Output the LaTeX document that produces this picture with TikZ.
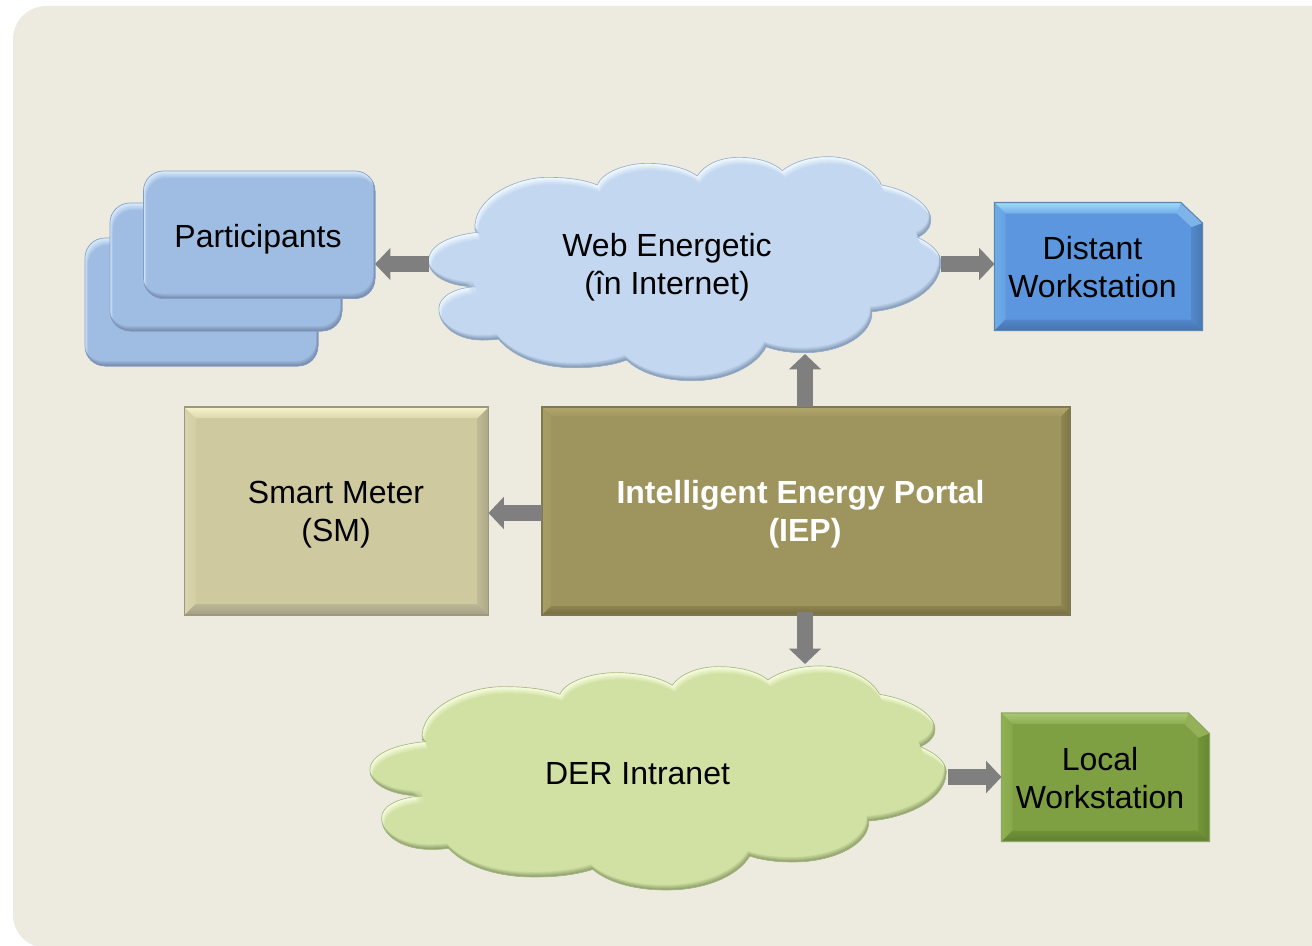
\documentclass[tikz,border=0pt]{standalone}
\usepackage{fontspec}
\setmainfont{Liberation Sans}
\usetikzlibrary{arrows.meta}
\definecolor{paper}{HTML}{EDEADF}
\definecolor{arrowgray}{HTML}{7F7F7F}
\definecolor{partBase}{HTML}{9FBDE3}\definecolor{partHi}{HTML}{DCEEFC}\definecolor{partLo}{HTML}{7488A8}
\definecolor{webBase}{HTML}{C3D8F0}\definecolor{webHi}{HTML}{F2FAFE}\definecolor{webLo}{HTML}{7F94B0}
\definecolor{derBase}{HTML}{D0E1A3}\definecolor{derHi}{HTML}{F9FDE2}\definecolor{derLo}{HTML}{8C9C6A}
\definecolor{smBase}{HTML}{CFC9A0}\definecolor{smTopA}{HTML}{F8F4CC}\definecolor{smTopB}{HTML}{DDD7AC}
\definecolor{smLeft}{HTML}{DAD4AE}\definecolor{smRight}{HTML}{ACA788}\definecolor{smBot}{HTML}{A4A086}\definecolor{smEdge}{HTML}{9C9880}
\definecolor{iepBase}{HTML}{9E945D}\definecolor{iepTopA}{HTML}{B0A76E}\definecolor{iepTopB}{HTML}{A29860}
\definecolor{iepLeft}{HTML}{A79D65}\definecolor{iepRight}{HTML}{7E7545}\definecolor{iepBot}{HTML}{776E42}\definecolor{iepEdge}{HTML}{7F7850}
\definecolor{distBase}{HTML}{5B96DE}\definecolor{distTopA}{HTML}{A0DAFB}\definecolor{distTopB}{HTML}{6FADE9}
\definecolor{distLeft}{HTML}{70ABE8}\definecolor{distRight}{HTML}{4878B2}\definecolor{distBot}{HTML}{4574B0}\definecolor{distDiag}{HTML}{7EB4E8}\definecolor{distEdge}{HTML}{5C85B0}
\definecolor{locBase}{HTML}{7E9F42}\definecolor{locTopA}{HTML}{ABC873}\definecolor{locTopB}{HTML}{8BAC50}
\definecolor{locLeft}{HTML}{90B054}\definecolor{locRight}{HTML}{668633}\definecolor{locBot}{HTML}{608032}\definecolor{locDiag}{HTML}{93B258}\definecolor{locEdge}{HTML}{8DA665}
\newcommand{\cloudoutline}{(160,440) .. controls (90,440) and (25,410) .. (25,362) .. controls (25,315) and (90,285) .. (168,277)
 -- (160,272) .. controls (150,180) and (270,112) .. (370,112) .. controls (430,112) and (480,120) .. (515,135)
 .. controls (530,95) and (600,70) .. (660,70) .. controls (720,70) and (775,85) .. (805,108)
 .. controls (825,75) and (870,52) .. (925,52) .. controls (985,52) and (1030,70) .. (1052,92)
 .. controls (1080,68) and (1130,50) .. (1185,50) .. controls (1260,50) and (1320,90) .. (1340,135)
 .. controls (1420,150) and (1483,195) .. (1483,240) .. controls (1483,260) and (1470,280) .. (1445,292)
 .. controls (1490,315) and (1512,340) .. (1512,368) .. controls (1512,445) and (1420,505) .. (1312,515)
 .. controls (1315,580) and (1230,638) .. (1115,638) .. controls (1075,638) and (1035,632) .. (1005,620)
 .. controls (975,680) and (890,722) .. (790,722) .. controls (710,722) and (640,700) .. (600,660)
 .. controls (560,675) and (510,683) .. (450,683) .. controls (350,683) and (270,650) .. (228,597)
 .. controls (210,600) and (195,600) .. (180,600) .. controls (110,600) and (55,560) .. (55,505)
 .. controls (55,475) and (90,445) .. (160,440) -- cycle}
% #1 outline, #2 base, #3 highlight, #4 lowlight
\newcommand{\softshape}[4]{%
 \begin{scope}
  \clip #1;
  \fill[#2] (-500,-500) rectangle (3000,3000);
  \foreach \i in {7,6,5,4,3,2,1}{%
   \pgfmathtruncatemacro\p{(8-\i)*14}%
   \fill[#3!\p!#2, even odd rule, yshift=-\i*0.75pt, xshift=\i*0.3pt] (-500,-500) rectangle (3000,3000) #1;
  }
  \foreach \i in {5,4,3,2,1}{%
   \pgfmathtruncatemacro\p{(6-\i)*18}%
   \fill[#4!\p!#2, even odd rule, yshift=\i*0.75pt, xshift=-\i*0.3pt] (-500,-500) rectangle (3000,3000) #1;
  }
 \end{scope}
 \draw[#4!60!#2, line width=0.5pt] #1;
}
% plain box: x1,y1,x2,y2,colour prefix,bevel width
\newcommand{\slantbox}[6]{%
 \def\bx{#1}\def\by{#2}\def\bX{#3}\def\bY{#4}\def\w{#6}%
 \fill[#5Base] (\bx,\by) rectangle (\bX,\bY);
 \shade[left color=#5Left, right color=#5Left!50!#5Base] (\bx,\by) -- (\bx+\w,\by+\w) -- (\bx+\w,\bY-\w) -- (\bx,\bY) -- cycle;
 \shade[left color=#5Right!45!#5Base, right color=#5Right] (\bX,\by) -- (\bX-\w,\by+\w) -- (\bX-\w,\bY-\w) -- (\bX,\bY) -- cycle;
 \shade[top color=#5Bot!45!#5Base, bottom color=#5Bot] (\bx,\bY) -- (\bx+\w,\bY-\w) -- (\bX-\w,\bY-\w) -- (\bX,\bY) -- cycle;
 \shade[top color=#5TopA, bottom color=#5TopB] (\bx,\by) -- (\bx+\w,\by+\w) -- (\bX-\w,\by+\w) -- (\bX,\by) -- cycle;
 \draw[#5Edge, line width=0.8pt] (\bx,\by) rectangle (\bX,\bY);
}
% snipped box: x1,y1,x2,y2,snip x,snip y,colour prefix
\newcommand{\snipbox}[7]{%
 \def\bx{#1}\def\by{#2}\def\bX{#3}\def\bY{#4}\def\sx{#5}\def\sy{#6}\def\w{11}%
 \fill[#7Base] (\bx,\by) -- (\sx,\by) -- (\bX,\sy) -- (\bX,\bY) -- (\bx,\bY) -- cycle;
 \shade[left color=#7Left, right color=#7Left!50!#7Base] (\bx,\by) -- (\bx+\w,\by+\w) -- (\bx+\w,\bY-\w) -- (\bx,\bY) -- cycle;
 \shade[left color=#7Right!45!#7Base, right color=#7Right] (\bX,\sy) -- (\bX-\w,\sy+4) -- (\bX-\w,\bY-\w) -- (\bX,\bY) -- cycle;
 \shade[top color=#7Bot!45!#7Base, bottom color=#7Bot] (\bx,\bY) -- (\bx+\w,\bY-\w) -- (\bX-\w,\bY-\w) -- (\bX,\bY) -- cycle;
 \fill[#7Diag] (\sx,\by) -- (\sx-4,\by+\w) -- (\bX-\w,\sy+4) -- (\bX,\sy) -- cycle;
 \shade[top color=#7TopA, bottom color=#7TopB] (\bx,\by) -- (\bx+\w,\by+\w) -- (\sx-4,\by+\w) -- (\sx,\by) -- cycle;
 \draw[#7Edge, line width=0.8pt] (\bx,\by) -- (\sx,\by) -- (\bX,\sy) -- (\bX,\bY) -- (\bx,\bY) -- cycle;
}
\tikzset{
 x=0.75pt, y=-0.75pt,
 holder/.style 2 args={inner sep=0pt, outer sep=0pt, minimum width=#1*0.75pt, minimum height=#2*0.75pt},
 txt/.style={font=\fontsize{24}{28.5}\selectfont, align=center, inner sep=0pt, text=black},
 flow/.style={draw=arrowgray, line width=12pt, -{Triangle[length=11.5pt,width=23.5pt]}}
}
\begin{document}
\begin{tikzpicture}
\useasboundingbox (0,0) rectangle (1312,945);
\begin{scope}
 \clip (0,0) rectangle (1312,945);
 \fill[paper, rounded corners=25pt] (13,6) rectangle (1400,948);
\end{scope}

% participants stack
\softshape{[rounded corners=15pt] (85,238) rectangle (318,366)}{partBase}{partHi}{partLo}
\softshape{[rounded corners=15pt] (110,203) rectangle (342,331)}{partBase}{partHi}{partLo}
\softshape{[rounded corners=15pt] (143.5,171) rectangle (375,298.5)}{partBase}{partHi}{partLo}

% clouds
\begin{scope}[shift={(420,140)}, x=0.2583pt, y=-0.25pt]
 \softshape{\cloudoutline}{webBase}{webHi}{webLo}
\end{scope}
\begin{scope}[shift={(360.3,649.3)}, x=0.2906pt, y=-0.25pt]
 \softshape{\cloudoutline}{derBase}{derHi}{derLo}
\end{scope}

% bevelled boxes
\slantbox{184.5}{407}{488.5}{615}{sm}{11}
\slantbox{542}{407}{1070}{615}{iep}{9}
\snipbox{994.5}{202.5}{1202.5}{330.5}{1181}{223}{dist}
\snipbox{1001.5}{713}{1209.5}{841.5}{1188.5}{733.5}{loc}

% shape holders used by the connectors
\node[holder={231.5}{127.5}] (part) at (259.25,234.75) {};
\node[holder={512}{234}] (web) at (685,264) {};
\node[holder={208}{128}] (dist) at (1098.5,266.5) {};
\node[holder={304}{208}] (sm) at (336.5,511) {};
\node[holder={528}{208}] (iep) at (806,511) {};
\node[holder={576}{226}] (der) at (660,777) {};
\node[holder={208}{128.5}] (local) at (1105.5,777.25) {};
\coordinate (webfoot) at (805,354);

% labels
\node[txt] (partlabel) at (258,239) {Participants};
\node[txt] (weblabel) at (667,267) {Web Energetic\\(în Internet)};
\node[txt] (distlabel) at (1092.5,267) {Distant\\Workstation};
\node[txt] (smlabel) at (336,514.5) {Smart Meter\\(SM)};
\node[txt, text=white, font=\fontsize{24}{28.5}\selectfont\bfseries] (ieplabel) at (805,514.5) {Intelligent Energy Portal\hspace*{0.278em}\\(IEP)};
\node[txt] (derlabel) at (637.5,774) {DER Intranet};
\node[txt] (locallabel) at (1100,778) {Local\\Workstation};

% connectors
\draw[flow] (web.west) -- (web.west -| part.east);
\draw[flow] (web.east) -- (web.east -| dist.west);
\draw[flow] ([yshift=-1.5pt]iep.west) -- ([yshift=-1.5pt]sm.east);
\draw[flow] ([xshift=-0.75pt]iep.north) -- (webfoot);
\draw[flow] ([xshift=-0.75pt,yshift=2.25pt]iep.south) -- ([xshift=-0.75pt]iep.south |- der.north);
\draw[flow] (der.east) -- (der.east -| local.west);
\end{tikzpicture}
\end{document}
